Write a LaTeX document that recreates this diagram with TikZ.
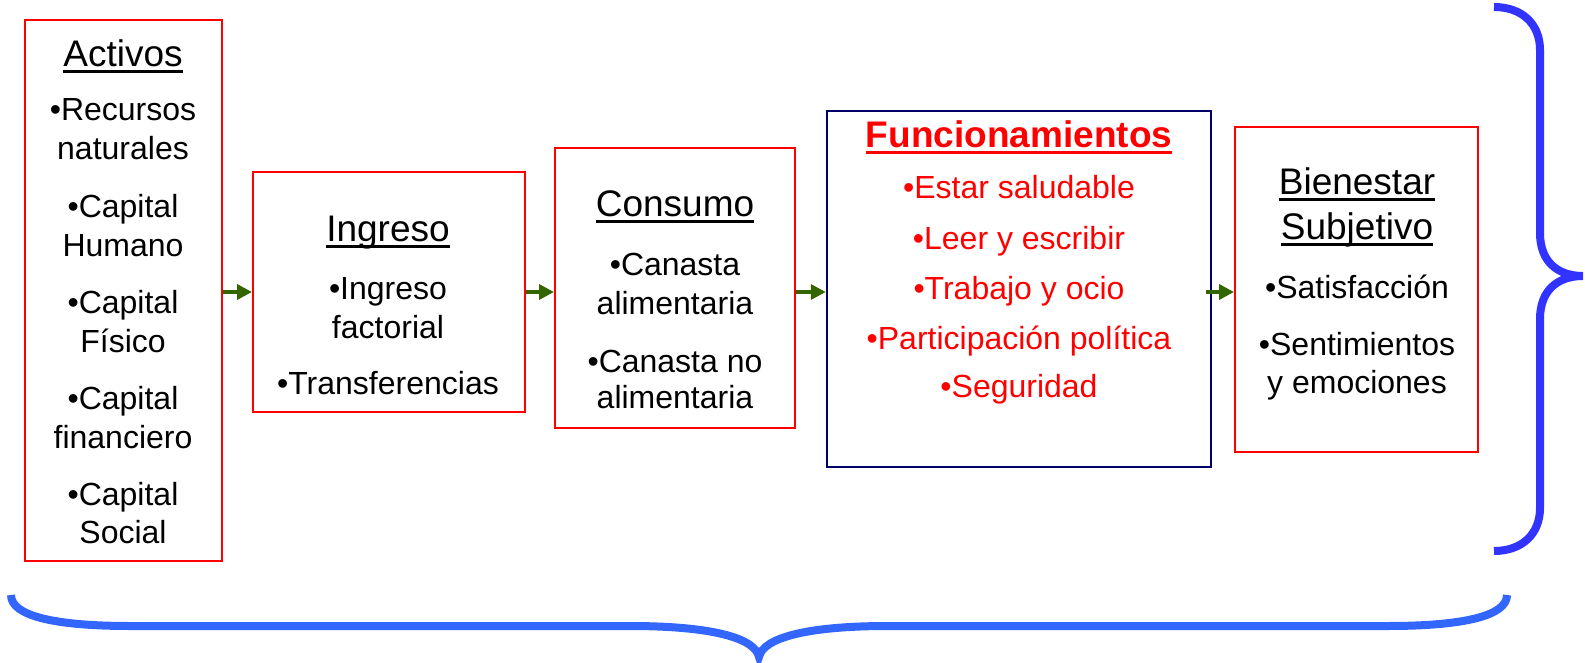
\documentclass[tikz,border=0pt]{standalone}
\usepackage{fontspec}
\setmainfont{Liberation Sans}
\usetikzlibrary{arrows.meta}
\definecolor{boxred}{HTML}{FF0000}
\definecolor{navy}{HTML}{000066}
\definecolor{arrgreen}{HTML}{336600}
\definecolor{braceA}{HTML}{3333FF}
\definecolor{braceB}{HTML}{3366FF}
\newcommand\hul[1]{\setbox0=\hbox{#1}\rlap{\rule[-6pt]{\wd0}{3pt}}\box0}
\tikzset{
  redbox/.style={draw=boxred, line width=2pt, inner sep=0pt, fill=none},
  navybox/.style={draw=navy, line width=2.5pt, inner sep=0pt},
  head/.style={anchor=base, inner sep=0pt, font=\fontsize{37}{44}\selectfont},
  item/.style={anchor=base, inner sep=0pt, font=\fontsize{32}{38}\selectfont},
  ritem/.style={item, text=boxred},
  arr/.style={draw=arrgreen, line width=3.5pt, -{Triangle[length=15pt,width=15pt]}, shorten >=0pt},
  brace/.style={line width=8pt}
}
\begin{document}
\begin{tikzpicture}[x=1pt,y=-1pt]
\useasboundingbox (0,0) rectangle (1585,663);
% boxes
\node[redbox, minimum width=197pt, minimum height=541pt] (act) at (123.5,290.5) {};
\node[redbox, minimum width=272pt, minimum height=240pt] (ing) at (389,292) {};
\node[redbox, minimum width=240pt, minimum height=280pt] (con) at (675,288) {};
\node[navybox, minimum width=384pt, minimum height=356pt] (fun) at (1019,289) {};
\node[redbox, minimum width=243pt, minimum height=325pt] (bie) at (1356.5,289.5) {};
% Activos
\node[head] (a0) at (123,67) {\hul{Activos}};
\node[item] (a1) at (123,121) {•Recursos};
\node[item] (a2) at (123,160) {naturales};
\node[item] (a3) at (123,218) {•Capital};
\node[item] (a4) at (123,257) {Humano};
\node[item] (a5) at (123,313) {•Capital};
\node[item] (a6) at (123,352) {Físico};
\node[item] (a7) at (123,409) {•Capital};
\node[item] (a8) at (123,448) {financiero};
\node[item] (a9) at (123,505) {•Capital};
\node[item] (a10) at (123,543) {Social};
% Ingreso
\node[head] (i0) at (388,242) {\hul{Ingreso}};
\node[item] (i1) at (388,299) {•Ingreso};
\node[item] (i2) at (388,338) {factorial};
\node[item] (i3) at (388,394) {•Transferencias};
% Consumo
\node[head] (c0) at (675,217) {\hul{Consumo}};
\node[item] (c1) at (675,275) {•Canasta};
\node[item] (c2) at (675,314) {alimentaria};
\node[item] (c3) at (675,372) {•Canasta no};
\node[item] (c4) at (675,408) {alimentaria};
% Funcionamientos
\node[head, text=boxred, font=\fontsize{37}{44}\selectfont\bfseries] (f0) at (1019,148) {\hul{Funcionamientos}};
\node[ritem] (f1) at (1019,199) {•Estar saludable};
\node[ritem] (f2) at (1019,250) {•Leer y escribir};
\node[ritem] (f3) at (1019,299) {•Trabajo y ocio};
\node[ritem] (f4) at (1019,349) {•Participación política};
\node[ritem] (f5) at (1019,397) {•Seguridad};
% Bienestar
\node[head] (b0) at (1357,195) {\hul{Bienestar}};
\node[head] (b1) at (1357,240) {\hul{Subjetivo}};
\node[item] (b2) at (1357,298) {•Satisfacción};
\node[item] (b3) at (1357,355) {•Sentimientos};
\node[item] (b4) at (1357,393) {y emociones};
% arrows
\draw[arr] (act.east |- ing.west) -- (ing.west);
\draw[arr] (ing.east) -- (con.west |- ing.east);
\draw[arr] (con.east |- ing.east) -- (fun.west |- ing.east);
\draw[arr] ([xshift=-6pt]fun.east |- ing.east) -- (bie.west |- ing.east);
% right brace
\draw[brace, draw=braceA] (1494,7) .. controls (1522,7) and (1540,24) .. (1540,50)
  -- (1540,233) .. controls (1540,262) and (1558,276) .. (1583,276)
  .. controls (1558,276) and (1540,290) .. (1540,319)
  -- (1540,508) .. controls (1540,534) and (1522,551) .. (1494,551);
% bottom brace
\draw[brace, draw=braceB] (11,595) .. controls (11,616) and (55,626) .. (130,626)
  -- (630,626) .. controls (712,626) and (755,638) .. (759,657)
  .. controls (763,638) and (806,626) .. (888,626)
  -- (1388,626) .. controls (1463,626) and (1507,616) .. (1507,595);
\end{tikzpicture}
\end{document}
